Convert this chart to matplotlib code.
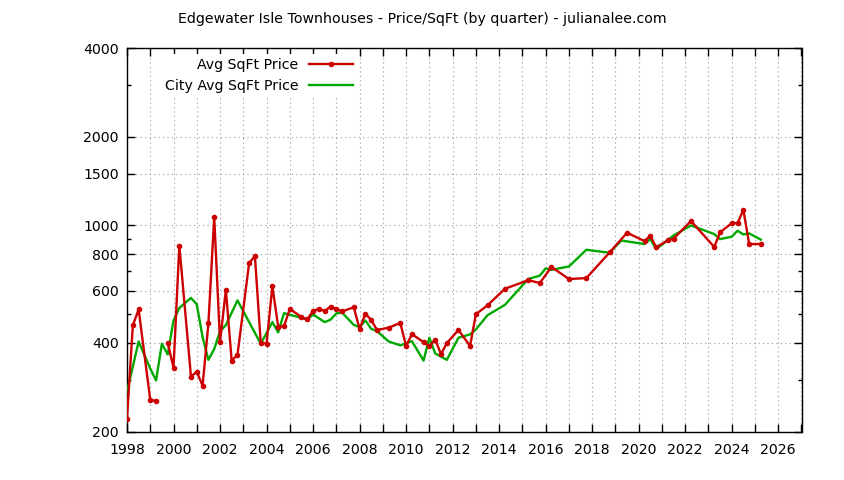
import numpy as np
import matplotlib
matplotlib.use("Agg")
import matplotlib.pyplot as plt
from matplotlib.ticker import FixedLocator, NullFormatter, FixedFormatter

title = "Edgewater Isle Townhouses - Price/SqFt (by quarter) - julianalee.com"
red_label = "Avg SqFt Price"
green_label = "City Avg SqFt Price"

red_x = [1998.0, 1998.25, 1998.5, 1999.0, 1999.25, 1999.5, 1999.75, 2000.0, 2000.25, 2000.75,
         2001.0, 2001.25, 2001.5, 2001.75, 2002.0, 2002.25, 2002.5, 2002.75, 2003.25, 2003.5,
         2003.75, 2004.0, 2004.25, 2004.5, 2004.75, 2005.0, 2005.5, 2005.75, 2006.0, 2006.25,
         2006.5, 2006.75, 2007.0, 2007.25, 2007.75, 2008.0, 2008.25, 2008.5, 2008.75, 2009.25,
         2009.75, 2010.0, 2010.25, 2010.75, 2011.0, 2011.25, 2011.5, 2011.75, 2012.25, 2012.75,
         2013.0, 2013.5, 2014.25, 2015.25, 2015.75, 2016.25, 2017.0, 2017.75, 2018.75, 2019.5,
         2020.25, 2020.5, 2020.75, 2021.25, 2021.5, 2022.25, 2023.25, 2023.5, 2024.0, 2024.25,
         2024.5, 2024.75, 2025.25]
red_y = [221, 458, 519, 256, 254, np.nan, 400, 329, 855, 307,
         319, 286, 465, 1067, 402, 606, 348, 364, 745, 787,
         400, 397, 622, 454, 455, 521, 489, 480, 513, 522,
         512, 531, 521, 511, 528, 446, 502, 478, 442, 450,
         467, 390, 428, 402, 389, 410, 366, 399, 442, 390,
         500, 536, 610, 652, 638, 723, 658, 663, 810, 945,
         885, 923, 843, 890, 902, 1035, 845, 948, 1018, 1018,
         1130, 865, 865]

green_x = [1998.0, 1998.5, 1999.0, 1999.25, 1999.5, 1999.75, 2000.0, 2000.25, 2000.75, 2001.0,
           2001.25, 2001.5, 2001.75, 2002.0, 2002.25, 2002.75, 2003.75, 2004.25, 2004.5, 2004.75,
           2005.5, 2005.75, 2006.0, 2006.5, 2006.75, 2007.0, 2007.25, 2007.75, 2008.0, 2008.25,
           2008.5, 2008.75, 2009.25, 2009.75, 2010.25, 2010.75, 2011.0, 2011.25, 2011.75, 2012.25,
           2012.75, 2013.0, 2013.5, 2014.25, 2015.25, 2015.75, 2016.0, 2016.25, 2017.0, 2017.75,
           2018.75, 2019.25, 2020.25, 2020.5, 2020.75, 2021.25, 2021.5, 2022.25, 2023.25, 2023.5,
           2024.0, 2024.25, 2024.5, 2024.75, 2025.25]
green_y = [273, 404, 327, 298, 397, 365, 476, 525, 568, 540,
           418, 350, 381, 438, 459, 557, 397, 470, 434, 504,
           486, 480, 499, 470, 479, 503, 506, 460, 452, 476,
           446, 438, 404, 392, 405, 348, 416, 368, 350, 416,
           427, 444, 496, 538, 658, 676, 715, 707, 726, 827,
           808, 889, 865, 900, 831, 892, 925, 1000, 935, 899,
           916, 960, 932, 940, 895]

y_major = [200, 400, 600, 800, 1000, 1500, 2000, 4000]
y_minor = [300, 500, 700, 900, 3000]
x_ticks = list(range(1998, 2028))

plt.rcParams['font.family'] = ['DejaVu Sans']
fig = plt.figure(figsize=(8.44, 4.8), dpi=100)
ax = fig.add_axes([127/844, 1-431.5/480, (801.5-127)/844, (431.5-48)/480])

ax.set_yscale('log')
ax.set_ylim(200, 4000)
ax.set_xlim(1998, 2027)

ax.plot(green_x, green_y, color='#00a800', lw=1.7, label=green_label, zorder=3)
ax.plot(red_x, red_y, color='#cc0000', lw=1.7, marker='o', markersize=3,
        label=red_label, zorder=4)

ax.yaxis.set_major_locator(FixedLocator(y_major))
ax.yaxis.set_major_formatter(FixedFormatter([str(v) for v in y_major]))
ax.yaxis.set_minor_locator(FixedLocator(y_minor))
ax.yaxis.set_minor_formatter(NullFormatter())
ax.xaxis.set_major_locator(FixedLocator(x_ticks))
ax.xaxis.set_major_formatter(FixedFormatter([str(v) if v % 2 == 0 else '' for v in x_ticks]))

ax.tick_params(which='both', direction='in', top=True, right=True, labelsize=10.2,
               width=1, colors='black')
ax.tick_params(which='major', length=6)
ax.tick_params(which='minor', length=3)
ax.tick_params(axis='x', pad=8.5)
ax.tick_params(axis='y', pad=6)

ax.grid(True, which='major', color='#999999', linestyle=(0, (1, 3)), linewidth=0.8)
for s in ax.spines.values():
    s.set_linewidth(1)
    s.set_color('black')

handles, labels = ax.get_legend_handles_labels()
leg = ax.legend(handles[::-1], labels[::-1], loc='upper right',
                bbox_to_anchor=(357/844, 1-54/480), bbox_transform=fig.transFigure,
                markerfirst=False, frameon=True, fancybox=False, framealpha=1,
                edgecolor='none', facecolor='white', fontsize=10.2,
                handlelength=3.1, handletextpad=0.75, labelspacing=0.5,
                borderpad=0.3, borderaxespad=0)
leg.set_zorder(5)
for t in leg.get_texts():
    t.set_ha('right')

fig.text(422/844, 1-19/480, title, ha='center', va='center', fontsize=10.2)

fig.savefig('out.png', dpi=100, facecolor='white')
